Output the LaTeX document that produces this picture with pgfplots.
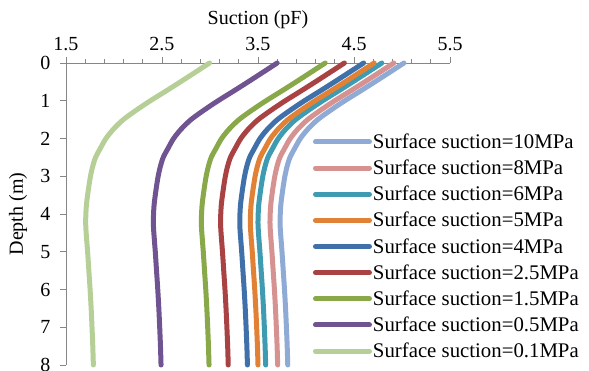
\documentclass[border=0pt]{standalone}
\usepackage{fontspec}
\setmainfont{Liberation Serif}
\usepackage{pgfplots}
\usepackage{pgfplotstable}
\usetikzlibrary{calc}
\pgfplotsset{compat=1.18}
\definecolor{cA}{HTML}{8FAAD4}
\definecolor{cB}{HTML}{D59291}
\definecolor{cC}{HTML}{3E9BB1}
\definecolor{cD}{HTML}{E08136}
\definecolor{cE}{HTML}{4070AA}
\definecolor{cF}{HTML}{A94242}
\definecolor{cG}{HTML}{89A84A}
\definecolor{cH}{HTML}{6F5491}
\definecolor{cI}{HTML}{B5CF96}
\definecolor{axgray}{HTML}{868686}
\pgfplotstableread{
d    s10   s8    s6    s5    s4    s25   s15   s05   s01
0    5.020 4.915 4.790 4.710 4.600 4.400 4.200 3.700 2.995
0.25 4.869 4.764 4.639 4.559 4.449 4.249 4.049 3.549 2.844
0.5  4.717 4.612 4.487 4.407 4.297 4.097 3.897 3.397 2.692
0.75 4.562 4.457 4.332 4.252 4.142 3.942 3.742 3.242 2.537
1    4.404 4.299 4.174 4.094 3.984 3.784 3.584 3.084 2.379
1.25 4.257 4.152 4.027 3.947 3.837 3.637 3.437 2.937 2.232
1.5  4.122 4.017 3.892 3.812 3.702 3.502 3.302 2.802 2.097
1.75 4.020 3.915 3.790 3.710 3.600 3.400 3.200 2.700 1.995
2    3.941 3.836 3.711 3.631 3.521 3.321 3.121 2.621 1.916
2.25 3.885 3.780 3.655 3.575 3.465 3.265 3.065 2.565 1.860
2.5  3.833 3.728 3.603 3.523 3.413 3.213 3.013 2.513 1.808
2.75 3.802 3.697 3.572 3.492 3.382 3.182 2.982 2.482 1.777
3    3.780 3.675 3.550 3.470 3.360 3.160 2.960 2.460 1.755
3.25 3.764 3.659 3.534 3.454 3.344 3.144 2.944 2.444 1.739
3.5  3.750 3.645 3.520 3.440 3.330 3.130 2.930 2.430 1.725
3.75 3.738 3.633 3.508 3.428 3.318 3.118 2.918 2.418 1.713
4    3.732 3.627 3.502 3.422 3.312 3.112 2.912 2.412 1.707
4.25 3.730 3.625 3.500 3.420 3.310 3.110 2.910 2.410 1.705
4.5  3.735 3.630 3.505 3.425 3.315 3.115 2.915 2.415 1.710
5    3.750 3.645 3.520 3.440 3.330 3.130 2.930 2.430 1.725
5.5  3.763 3.658 3.533 3.453 3.343 3.143 2.943 2.443 1.738
6    3.776 3.671 3.546 3.466 3.356 3.156 2.956 2.456 1.751
6.5  3.787 3.682 3.557 3.477 3.367 3.167 2.967 2.467 1.762
7    3.796 3.691 3.566 3.486 3.376 3.176 2.976 2.476 1.771
7.5  3.804 3.699 3.574 3.494 3.384 3.184 2.984 2.484 1.779
8    3.810 3.705 3.580 3.500 3.390 3.190 2.990 2.490 1.785
}\data
\begin{document}
\begin{tikzpicture}
\begin{axis}[
  scale only axis, width=384pt, height=302pt,
  xmin=1.5, xmax=5.5, ymin=0, ymax=8, y dir=reverse,
  axis x line=top, axis y line=left,
  axis line style={-, draw=axgray, line width=0.9pt},
  xtick={1.5,2.5,3.5,4.5,5.5},
  minor xtick={1.7,1.9,2.1,2.3,2.7,2.9,3.1,3.3,3.7,3.9,4.1,4.3,4.7,4.9,5.1,5.3},
  ytick={0,1,2,3,4,5,6,7,8},
  tick align=outside,
  major tick length=6pt, minor tick length=4pt,
  every tick/.style={draw=axgray, line width=0.9pt},
  /pgf/number format/assume math mode=true,
  xticklabel style={/pgf/number format/.cd, fixed, precision=1, fixed zerofill, /tikz/yshift=3pt},
  yticklabel style={/pgf/number format/fixed, /tikz/xshift=-6pt},
  tick label style={font=\fontsize{20}{24}\selectfont, text=black},
  label style={font=\fontsize{20}{24}\selectfont},
  xlabel={Suction (pF)},
  xlabel style={at={(axis description cs:0.5,1.142)}, anchor=center},
  ylabel={Depth (m)},
  ylabel style={at={(axis description cs:-0.125,0.5)}, anchor=center},
  legend cell align=left,
  legend style={draw=none, fill=none, at={(0.64,0.012)}, anchor=south west,
    font=\fontsize{20.8}{22}\selectfont, row sep=8pt,
    nodes={inner sep=1pt}, inner sep=1pt},
  legend image code/.code={\draw[#1, line cap=round] (0pt,0pt) -- (54pt,0pt);},
  clip=false,
]
\addplot[cA, line width=5pt, line cap=round, smooth] table[x=s10, y=d]{\data};
\addlegendentry{Surface suction=10MPa}
\addplot[cB, line width=5pt, line cap=round, smooth] table[x=s8, y=d]{\data};
\addlegendentry{Surface suction=8MPa}
\addplot[cC, line width=5pt, line cap=round, smooth] table[x=s6, y=d]{\data};
\addlegendentry{Surface suction=6MPa}
\addplot[cD, line width=5pt, line cap=round, smooth] table[x=s5, y=d]{\data};
\addlegendentry{Surface suction=5MPa}
\addplot[cE, line width=5pt, line cap=round, smooth] table[x=s4, y=d]{\data};
\addlegendentry{Surface suction=4MPa}
\addplot[cF, line width=5pt, line cap=round, smooth] table[x=s25, y=d]{\data};
\addlegendentry{Surface suction=2.5MPa}
\addplot[cG, line width=5pt, line cap=round, smooth] table[x=s15, y=d]{\data};
\addlegendentry{Surface suction=1.5MPa}
\addplot[cH, line width=5pt, line cap=round, smooth] table[x=s05, y=d]{\data};
\addlegendentry{Surface suction=0.5MPa}
\addplot[cI, line width=5pt, line cap=round, smooth] table[x=s01, y=d]{\data};
\addlegendentry{Surface suction=0.1MPa}
\end{axis}
\pgfresetboundingbox
\path[use as bounding box] ($(current axis.south west)+(-66pt,-6pt)$) rectangle ($(current axis.north east)+(139pt,63pt)$);
\end{tikzpicture}
\end{document}
